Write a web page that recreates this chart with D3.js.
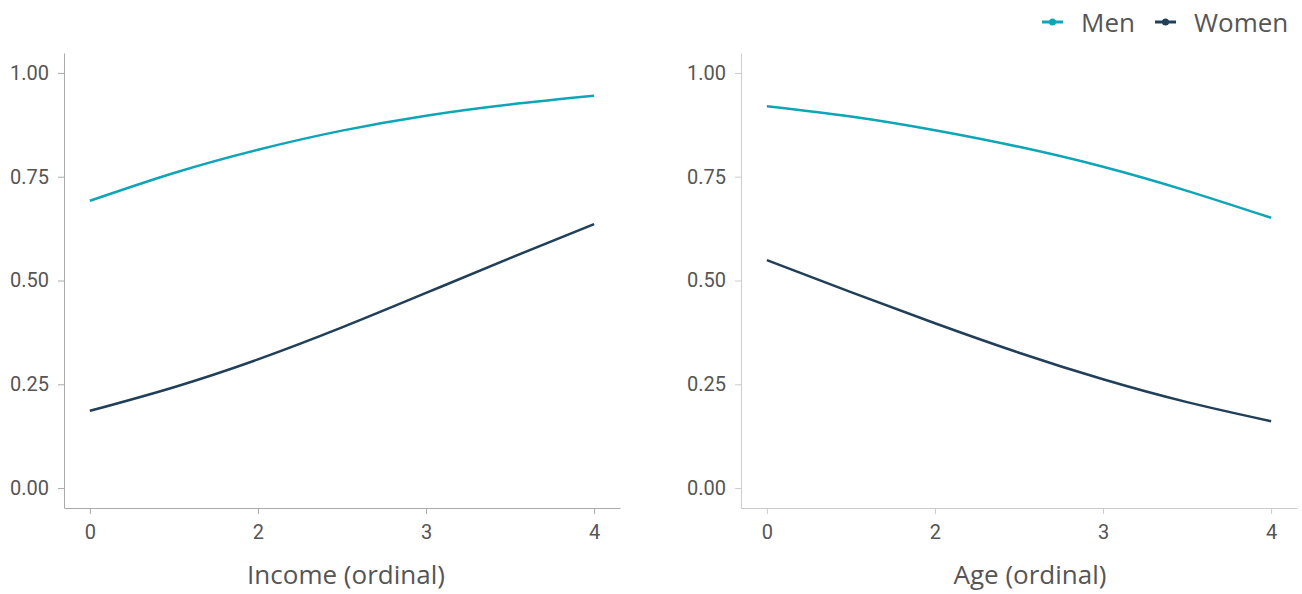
<!DOCTYPE html>
<html>
<head>
<meta charset="utf-8">
<script src="https://cdn.jsdelivr.net/npm/d3@7"></script>
<style>
  body { margin: 0; background: #fff; }
  .tick text { font-family: Roboto, sans-serif; font-size: 20px; fill: #555; }
</style>
</head>
<body>
<div id="chart"></div>
<script>
// x positions (ordinal index) and the labels shown under them
let xIndex = [0, 0.5, 1, 1.5, 2, 2.5, 3]
let xTicks = [0, 1, 2, 3]
let xTickLabels = ["0", "2", "3", "4"]
let yTicks = [0, 0.25, 0.5, 0.75, 1]

// values
let incomeMen   = [0.692, 0.759, 0.815, 0.861, 0.897, 0.924, 0.945]
let incomeWomen = [0.186, 0.243, 0.310, 0.387, 0.470, 0.554, 0.636]
let ageMen      = [0.920, 0.895, 0.862, 0.822, 0.774, 0.716, 0.651]
let ageWomen    = [0.549, 0.472, 0.397, 0.326, 0.262, 0.207, 0.161]

let seriesNames = ["Men", "Women"]
let seriesColors = ["#0ea5b6", "#213f59"]

let dims = { width: 1302, height: 594 }

var svg = d3.select("#chart").append("svg")
    .attr("width", dims.width)
    .attr("height", dims.height)

var panels = [
    { left: 64, title: "Income (ordinal)", titleX: 346, series: [incomeMen, incomeWomen], axisColor: "#aaa" },
    { left: 741, title: "Age (ordinal)", titleX: 1030, series: [ageMen, ageWomen], axisColor: "#ccc" }
]

var panelTop = 53, panelW = 556, panelH = 455

panels.forEach(p => {
    const g = svg.append("g").attr("transform", `translate(${p.left},${panelTop})`)

    var xScale = d3.scaleLinear().domain([-0.154, 3.154]).range([0, panelW])
    var yScale = d3.scaleLinear().domain([-0.048, 1.048]).range([panelH, 0])

    const yAxis = g.append("g")
        .call(d3.axisLeft(yScale).tickValues(yTicks).tickFormat(d3.format(".2f"))
            .tickSize(6).tickSizeOuter(0).tickPadding(9))
    yAxis.selectAll("path, line").attr("stroke", p.axisColor)

    const xAxis = g.append("g")
        .attr("transform", `translate(0,${panelH})`)
        .call(d3.axisBottom(xScale).tickValues(xTicks).tickFormat((d, i) => xTickLabels[i])
            .tickSize(6).tickSizeOuter(0).tickPadding(11))
    xAxis.selectAll("path, line").attr("stroke", p.axisColor)

    var line = d3.line()
        .x((d, i) => xScale(xIndex[i]))
        .y(d => yScale(d))
        .curve(d3.curveNatural)

    p.series.forEach((s, k) => {
        g.append("path")
            .datum(s)
            .attr("fill", "none")
            .attr("stroke", seriesColors[k])
            .attr("stroke-width", 2.5)
            .attr("d", line)
    })

    svg.append("text")
        .attr("x", p.titleX)
        .attr("y", 584)
        .attr("text-anchor", "middle")
        .attr("font-family", "'Open Sans', sans-serif")
        .attr("font-size", "26px")
        .attr("fill", "#555")
        .text(p.title)
})

// legend
var legendX = [1042, 1155]
seriesNames.forEach((name, k) => {
    const lg = svg.append("g").attr("transform", `translate(${legendX[k]},22)`)
    lg.append("line")
        .attr("x1", 0).attr("x2", 21)
        .attr("stroke", seriesColors[k]).attr("stroke-width", 3)
    lg.append("circle")
        .attr("cx", 10.5).attr("r", 3.5)
        .attr("fill", seriesColors[k])
    lg.append("text")
        .attr("x", 39).attr("y", 10)
        .attr("font-family", "'Open Sans', sans-serif")
        .attr("font-size", "26px")
        .attr("fill", "#555")
        .text(name)
})
</script>
</body>
</html>
